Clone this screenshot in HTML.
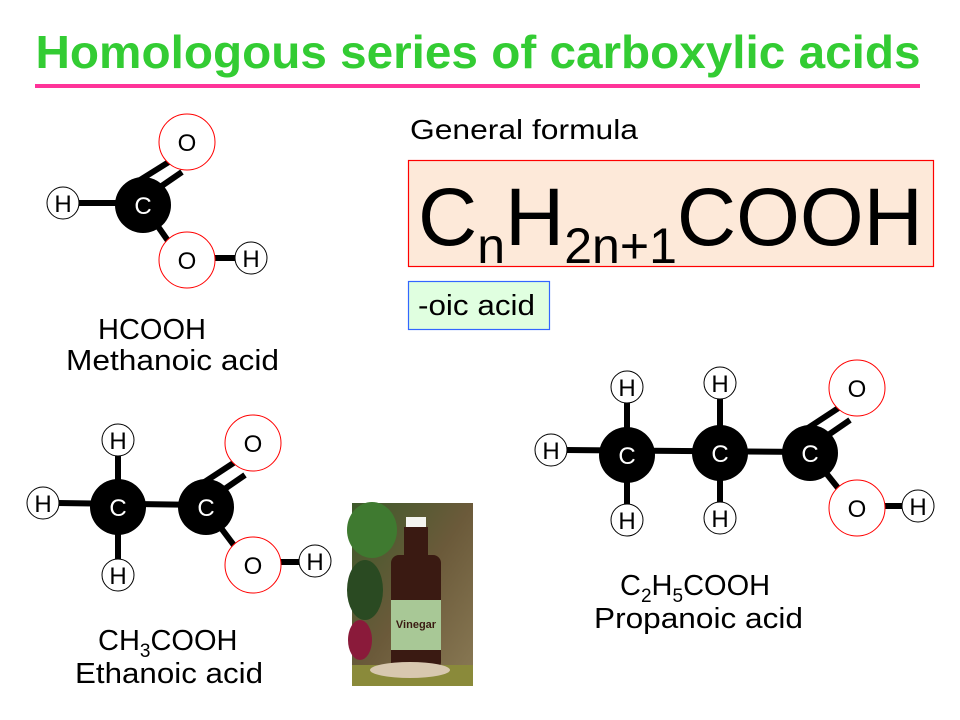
<!DOCTYPE html>
<html><head><meta charset="utf-8"><style>
html,body{margin:0;padding:0;background:#fff;width:960px;height:720px;overflow:hidden}
svg{display:block}
text{font-family:"Liberation Sans",Arial,sans-serif}
</style></head><body>
<svg width="960" height="720" viewBox="0 0 960 720" xmlns="http://www.w3.org/2000/svg">
<defs>
<linearGradient id="bg" x1="0" y1="0" x2="1" y2="1"><stop offset="0" stop-color="#3d5a2a"/><stop offset="0.5" stop-color="#6b5a3a"/><stop offset="1" stop-color="#8a7a55"/></linearGradient>
</defs>
<text x="478" y="68" text-anchor="middle" font-size="46" font-weight="bold" fill="#33cc33" textLength="885" lengthAdjust="spacingAndGlyphs">Homologous series of carboxylic acids</text>
<rect x="35" y="84" width="885" height="4" fill="#ff3399"/>

<text x="410" y="139" font-size="28" textLength="228" lengthAdjust="spacingAndGlyphs">General formula</text>
<rect x="408.5" y="160.5" width="525" height="106" fill="#fde9d9" stroke="#ff0000" stroke-width="1.2"/>
<text x="418" y="245" font-size="82">C<tspan font-size="50" dy="18">n</tspan><tspan dy="-18">H</tspan><tspan font-size="50" dy="18">2n+1</tspan><tspan dy="-18">COOH</tspan></text>
<rect x="408.5" y="281.5" width="141" height="48" fill="#e0ffe0" stroke="#3366ff" stroke-width="1.2"/>
<text x="418" y="315" font-size="29" textLength="117" lengthAdjust="spacingAndGlyphs">-oic acid</text>

<g stroke="#000" stroke-width="6" fill="none">
<line x1="78" y1="203" x2="143" y2="203"/>
<line x1="143" y1="205" x2="180" y2="258"/>
<line x1="210" y1="258" x2="240" y2="258"/>
<line x1="140" y1="180" x2="172" y2="160"/>
<line x1="150" y1="194" x2="182" y2="172"/>
<line x1="58" y1="503" x2="206" y2="505"/>
<line x1="118" y1="455" x2="118" y2="560"/>
<line x1="206" y1="508" x2="245" y2="560"/>
<line x1="275" y1="562" x2="305" y2="562"/>
<line x1="203" y1="483" x2="235" y2="462"/>
<line x1="213" y1="497" x2="245" y2="475"/>
<line x1="566" y1="450" x2="810" y2="452"/>
<line x1="627" y1="400" x2="627" y2="505"/>
<line x1="720" y1="398" x2="720" y2="505"/>
<line x1="810" y1="453" x2="850" y2="503"/>
<line x1="880" y1="506" x2="908" y2="506"/>
<line x1="808" y1="428" x2="840" y2="407"/>
<line x1="818" y1="442" x2="850" y2="420"/>
</g>

<g font-size="24" text-anchor="middle">
<circle cx="143" cy="205" r="28" fill="#000"/><text x="143" y="214" fill="#fff">C</text>
<circle cx="187" cy="142" r="28" fill="#fff" stroke="#ff0000"/><text x="187" y="151">O</text>
<circle cx="187" cy="260" r="28" fill="#fff" stroke="#ff0000"/><text x="187" y="269">O</text>
<circle cx="63" cy="203" r="16" fill="#fff" stroke="#000"/><text x="63" y="212">H</text>
<circle cx="251" cy="258" r="16" fill="#fff" stroke="#000"/><text x="251" y="267">H</text>
<circle cx="118" cy="507" r="28" fill="#000"/><text x="118" y="516" fill="#fff">C</text>
<circle cx="206" cy="507" r="28" fill="#000"/><text x="206" y="516" fill="#fff">C</text>
<circle cx="253" cy="443" r="28" fill="#fff" stroke="#ff0000"/><text x="253" y="452">O</text>
<circle cx="253" cy="565" r="28" fill="#fff" stroke="#ff0000"/><text x="253" y="574">O</text>
<circle cx="43" cy="503" r="16" fill="#fff" stroke="#000"/><text x="43" y="512">H</text>
<circle cx="118" cy="440" r="16" fill="#fff" stroke="#000"/><text x="118" y="449">H</text>
<circle cx="118" cy="575" r="16" fill="#fff" stroke="#000"/><text x="118" y="584">H</text>
<circle cx="315" cy="561" r="16" fill="#fff" stroke="#000"/><text x="315" y="570">H</text>
<circle cx="627" cy="455" r="28" fill="#000"/><text x="627" y="464" fill="#fff">C</text>
<circle cx="720" cy="453" r="28" fill="#000"/><text x="720" y="462" fill="#fff">C</text>
<circle cx="810" cy="453" r="28" fill="#000"/><text x="810" y="462" fill="#fff">C</text>
<circle cx="857" cy="388" r="28" fill="#fff" stroke="#ff0000"/><text x="857" y="397">O</text>
<circle cx="857" cy="508" r="28" fill="#fff" stroke="#ff0000"/><text x="857" y="517">O</text>
<circle cx="551" cy="450" r="16" fill="#fff" stroke="#000"/><text x="551" y="459">H</text>
<circle cx="627" cy="387" r="16" fill="#fff" stroke="#000"/><text x="627" y="396">H</text>
<circle cx="720" cy="383" r="16" fill="#fff" stroke="#000"/><text x="720" y="392">H</text>
<circle cx="627" cy="520" r="16" fill="#fff" stroke="#000"/><text x="627" y="529">H</text>
<circle cx="720" cy="518" r="16" fill="#fff" stroke="#000"/><text x="720" y="527">H</text>
<circle cx="918" cy="506" r="16" fill="#fff" stroke="#000"/><text x="918" y="515">H</text>
</g>

<g font-size="29">
<text x="98" y="339">HCOOH</text>
<text x="66" y="370" textLength="213" lengthAdjust="spacingAndGlyphs">Methanoic acid</text>
<text x="98" y="650">CH<tspan font-size="19" dy="7">3</tspan><tspan dy="-7">COOH</tspan></text>
<text x="75" y="683" textLength="188" lengthAdjust="spacingAndGlyphs">Ethanoic acid</text>
<text x="620" y="595">C<tspan font-size="19" dy="7">2</tspan><tspan dy="-7">H</tspan><tspan font-size="19" dy="7">5</tspan><tspan dy="-7">COOH</tspan></text>
<text x="594" y="628" textLength="209" lengthAdjust="spacingAndGlyphs">Propanoic acid</text>
</g>

<rect x="352" y="503" width="121" height="183" fill="url(#bg)"/>
<ellipse cx="372" cy="530" rx="25" ry="28" fill="#3f7a30"/>
<ellipse cx="365" cy="590" rx="18" ry="30" fill="#2a4a22"/>
<rect x="391" y="555" width="50" height="115" rx="8" fill="#3a1a12"/>
<rect x="404" y="527" width="24" height="32" fill="#3a1a12"/>
<rect x="406" y="517" width="20" height="10" fill="#f4f4f0"/>
<rect x="391" y="600" width="50" height="50" fill="#a8c896"/>
<text x="416" y="628" font-size="11" font-weight="bold" text-anchor="middle" fill="#3a1a12">Vinegar</text>
<ellipse cx="360" cy="640" rx="12" ry="20" fill="#8a1a3a"/>
<rect x="352" y="665" width="121" height="21" fill="#8a8a3a"/>
<ellipse cx="410" cy="670" rx="40" ry="8" fill="#d8c8b0"/>
</svg>
</body></html>
